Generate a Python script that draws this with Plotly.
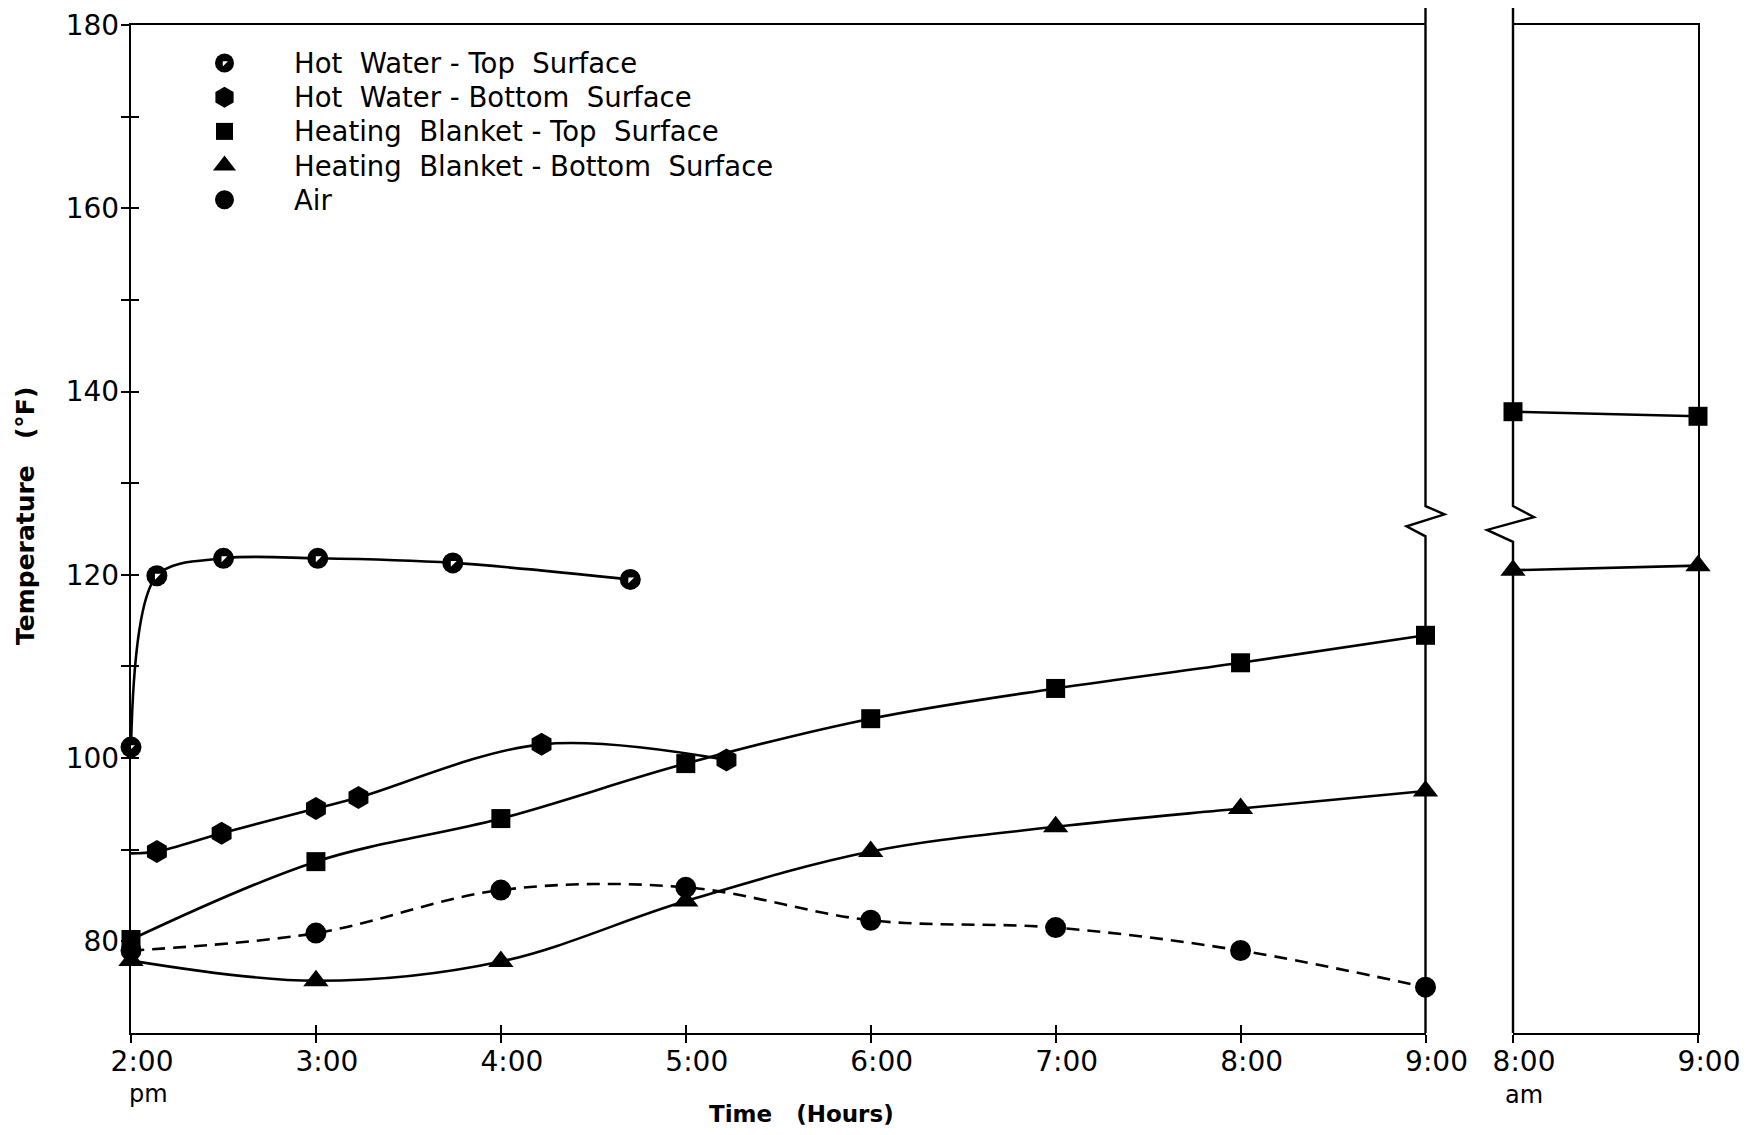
import plotly.graph_objects as go

# ---------------- data ----------------
# afternoon panel: hours after 2:00 pm
hw_top_t = [0.0, 0.14, 0.50, 1.01, 1.74, 2.70]
hw_top_T = [101.2, 119.9, 121.8, 121.8, 121.3, 119.5]

hw_bot_t = [0.0, 0.14, 0.49, 1.00, 1.23, 2.22, 3.22]
hw_bot_T = [89.6, 89.8, 91.8, 94.5, 95.7, 101.5, 99.8]

hours_pm = [0, 1, 2, 3, 4, 5, 6, 7]
hb_top_T = [80.2, 88.7, 93.4, 99.4, 104.3, 107.6, 110.4, 113.4]
hb_bot_T = [77.9, 75.7, 77.8, 84.4, 89.8, 92.5, 94.5, 96.4]
air_T = [79.0, 80.9, 85.6, 85.9, 82.3, 81.5, 79.0, 75.0]

# next-morning panel: hours after 8:00 am
hours_am = [0, 1]
hb_top_am = [137.8, 137.3]
hb_bot_am = [120.5, 121.0]

pm_ticktext = ["2:00", "3:00", "4:00", "5:00", "6:00", "7:00", "8:00", "9:00"]
am_ticktext = ["8:00", "9:00"]
y_tickvals = [80, 90, 100, 110, 120, 130, 140, 150, 160, 170, 180]
y_ticktext = ["80", "", "100", "", "120", "", "140", "", "160", "", "180"]

legend_names = [
    "Hot\u00a0\u00a0Water - Top\u00a0\u00a0Surface",
    "Hot\u00a0\u00a0Water - Bottom\u00a0\u00a0Surface",
    "Heating\u00a0\u00a0Blanket - Top\u00a0\u00a0Surface",
    "Heating\u00a0\u00a0Blanket - Bottom\u00a0\u00a0Surface",
    "Air",
]

# ---------------- layout geometry (page pixels; body has an 8px margin) ----------------
BODY = 8
W, H = 1760 - 2 * BODY, 1135 - 2 * BODY
PX0, PX1 = 131, 1698          # plot area left / right on the page
PY0, PY1 = 25, 1033           # plot area top / bottom on the page
PW, PH = PX1 - PX0, PY1 - PY0
ML, MT = PX0 - BODY, PY0 - BODY
MR, MB = W - ML - PW, H - MT - PH
XL_END = 1425.5
XR_START = 1513
dL = (XL_END - PX0) / PW
dR = (XR_START - PX0) / PW
YR = [70, 180]


def px(xp):
    return (xp - PX0) / PW


def py(yp):
    return (PY1 - yp) / PH


FONT = "DejaVu Sans"
LW = 2.6

fig = go.Figure()


def lines(x, y, xa, ya, dash="solid", shape="spline", smoothing=1.0):
    fig.add_trace(go.Scatter(
        x=x, y=y, mode="lines", xaxis=xa, yaxis=ya, showlegend=False,
        line=dict(color="black", width=LW, dash=dash, shape=shape, smoothing=smoothing),
        cliponaxis=False, hoverinfo="skip"))


def marks(x, y, xa, ya, symbol, size, color="black"):
    fig.add_trace(go.Scatter(
        x=x, y=y, mode="markers", xaxis=xa, yaxis=ya, showlegend=False,
        marker=dict(symbol=symbol, size=size, color=color, line=dict(width=0)),
        cliponaxis=False))


def half_circle(x, y, xa, ya, size=21):
    marks(x, y, xa, ya, "circle", size)
    marks(x, y, xa, ya, "triangle-nw", size * 0.31, color="white")


S_CIR, S_HEX, S_SQ, S_TRI = 21, 23, 19, 22

# afternoon panel
lines(hw_top_t, hw_top_T, "x", "y", smoothing=0.9)
half_circle(hw_top_t, hw_top_T, "x", "y")

lines(hw_bot_t, hw_bot_T, "x", "y")
marks(hw_bot_t[1:], hw_bot_T[1:], "x", "y", "hexagon", S_HEX)

lines(hours_pm, hb_top_T, "x", "y")
marks(hours_pm, hb_top_T, "x", "y", "square", S_SQ)

lines(hours_pm, hb_bot_T, "x", "y")
marks(hours_pm, hb_bot_T, "x", "y", "triangle-up", S_TRI)

lines(hours_pm, air_T, "x", "y", dash="13px,8px")
marks(hours_pm, air_T, "x", "y", "circle", S_CIR)

# morning panel
lines(hours_am, hb_top_am, "x2", "y2", shape="linear")
marks(hours_am, hb_top_am, "x2", "y2", "square", S_SQ)
lines(hours_am, hb_bot_am, "x2", "y2", shape="linear")
marks(hours_am, hb_bot_am, "x2", "y2", "triangle-up", S_TRI)

# dummy traces so the crossing-tick overlay axes are drawn
fig.add_trace(go.Scatter(x=[None], y=[None], xaxis="x4", yaxis="y", showlegend=False))
fig.add_trace(go.Scatter(x=[None], y=[None], xaxis="x", yaxis="y4", showlegend=False))

# ---------------- legend (drawn in a page-pixel overlay) ----------------
LEG_X, LEG_TX, LEG_Y0, LEG_DY = 224.5, 292, 63, 34.2
leg_y = [LEG_Y0 + i * LEG_DY for i in range(5)]
half_circle([LEG_X], [leg_y[0]], "x3", "y3", size=19)
marks([LEG_X], [leg_y[1]], "x3", "y3", "hexagon", 21)
marks([LEG_X], [leg_y[2]], "x3", "y3", "square", 17)
marks([LEG_X], [leg_y[3]], "x3", "y3", "triangle-up", 20)
marks([LEG_X], [leg_y[4]], "x3", "y3", "circle", 19)

annotations = []
for name, yy in zip(legend_names, leg_y):
    annotations.append(dict(x=LEG_TX, y=yy, xref="x3", yref="y3", text=name,
                            showarrow=False, xanchor="left", yanchor="middle",
                            font=dict(family=FONT, size=27.5, color="black")))

annotations.append(dict(x=px(25), y=py(516), xref="paper", yref="paper",
                        text="Temperature\u00a0\u00a0\u00a0(°F)", textangle=-90, showarrow=False,
                        xanchor="center", yanchor="middle",
                        font=dict(family=FONT, size=25, color="black", weight="bold")))
annotations.append(dict(x=px(801), y=py(1114), xref="paper", yref="paper",
                        text="Time\u00a0\u00a0\u00a0(Hours)", showarrow=False,
                        xanchor="center", yanchor="middle",
                        font=dict(family=FONT, size=23, color="black", weight="bold")))
# second line of the first tick labels
annotations.append(dict(x=px(148), y=py(1094), xref="paper", yref="paper", text="pm",
                        showarrow=False, xanchor="center", yanchor="middle",
                        font=dict(family=FONT, size=24, color="black")))
annotations.append(dict(x=px(1524), y=py(1095), xref="paper", yref="paper", text="am",
                        showarrow=False, xanchor="center", yanchor="middle",
                        font=dict(family=FONT, size=24, color="black")))

# ---------------- broken borders ----------------
def yfrac(T):
    return (T - YR[0]) / (YR[1] - YR[0])


def border_path(x0, pts):
    segs = []
    for dx_px, T in pts:
        segs.append(f"{x0 + dx_px / PW:.5f},{yfrac(T):.5f}")
    return "M " + " L ".join(segs)


left_pts = [(0, 70), (0, 124.2), (-19, 125.3), (19, 126.6), (0, 127.5), (0, 182.1)]
right_pts = [(0, 70), (0, 123.6), (-26, 124.9), (21, 126.3), (0, 127.5), (0, 182.1)]
shapes = [
    dict(type="path", path=border_path(dL, left_pts), xref="paper", yref="paper",
         line=dict(color="black", width=2.4)),
    dict(type="path", path=border_path(dR, right_pts), xref="paper", yref="paper",
         line=dict(color="black", width=2.4)),
]

tickfont = dict(family=FONT, size=28, color="black")
axis_common = dict(showgrid=False, zeroline=False, linecolor="black", linewidth=2.4,
                   tickcolor="black", tickwidth=2, ticklen=8, tickfont=tickfont,
                   automargin=False)
overlay_common = dict(showticklabels=False, showline=False, showgrid=False, zeroline=False,
                      tickcolor="black", tickwidth=2, ticklen=8, automargin=False)

fig.update_layout(
    width=W, height=H,
    margin=dict(l=ML, r=MR, t=MT, b=MB),
    paper_bgcolor="white", plot_bgcolor="rgba(0,0,0,0)",
    showlegend=False,
    font=dict(family=FONT, color="black"),
    xaxis=dict(domain=[0, dL], range=[0, 7], anchor="y", tickvals=hours_pm, ticktext=pm_ticktext,
               ticks="outside", showline=True, mirror=True, ticklabelshift=11,
               ticklabelstandoff=-6, **axis_common),
    yaxis=dict(domain=[0, 1], range=YR, anchor="x", tickvals=y_tickvals, ticktext=y_ticktext,
               ticks="outside", showline=True, ticklabelstandoff=-4, **axis_common),
    xaxis2=dict(domain=[dR, 1], range=[0, 1], anchor="y2", tickvals=hours_am, ticktext=am_ticktext,
                ticks="outside", showline=True, mirror=True, ticklabelshift=11,
                ticklabelstandoff=-6, **axis_common),
    yaxis2=dict(domain=[0, 1], range=YR, anchor="x2", side="right", showline=True,
                showticklabels=False, ticks="", **axis_common),
    xaxis3=dict(domain=[0, 1], range=[PX0, PX1], anchor="y3", visible=False, automargin=False),
    yaxis3=dict(domain=[0, 1], range=[PY1, PY0], anchor="x3", visible=False, automargin=False),
    xaxis4=dict(overlaying="x", anchor="y", range=[0, 7], tickvals=hours_pm[1:7], ticks="inside",
                **overlay_common),
    yaxis4=dict(overlaying="y", anchor="x", range=YR, tickvals=y_tickvals[:-1], ticks="inside",
                **overlay_common),
    shapes=shapes,
    annotations=annotations,
)

fig.write_html("out.html")
